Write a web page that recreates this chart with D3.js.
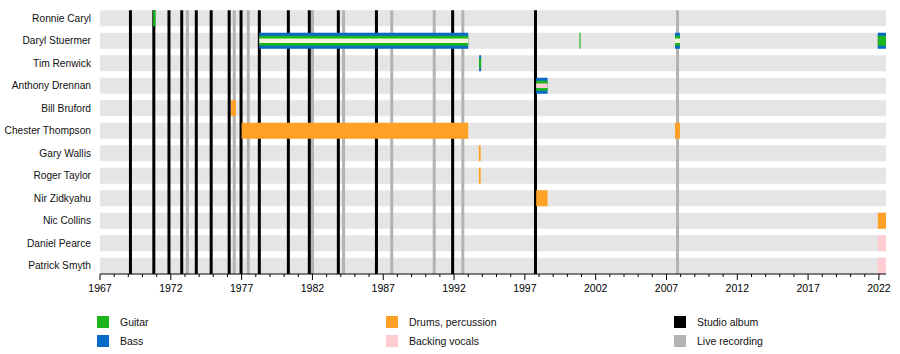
<!DOCTYPE html>
<html>
<head>
<meta charset="utf-8">
<script src="https://cdn.jsdelivr.net/npm/d3@7"></script>
<style>
  body { margin: 0; background: #fff; }
  svg { font-family: "Liberation Sans", Arial, sans-serif; }
</style>
</head>
<body>
<svg id="chart" width="900" height="354"></svg>
<script>
// ---------------- DATA ----------------
const members = ["Ronnie Caryl", "Daryl Stuermer", "Tim Renwick", "Anthony Drennan",
  "Bill Bruford", "Chester Thompson", "Gary Wallis", "Roger Taylor", "Nir Zidkyahu",
  "Nic Collins", "Daniel Pearce", "Patrick Smyth"];

const roles = ["Guitar", "Bass", "Drums, percussion", "Backing vocals", "Other"];

// [member, start, end, roles from outer to inner layer]
const segments = [
  ["Ronnie Caryl", 1970.75, 1970.92, ["Guitar"]],
  ["Daryl Stuermer", 1978.25, 1993.0, ["Bass", "Guitar", "Other"]],
  ["Daryl Stuermer", 2000.85, 2000.93, ["Guitar"]],
  ["Daryl Stuermer", 2007.6, 2007.95, ["Bass", "Guitar", "Other"]],
  ["Daryl Stuermer", 2021.92, 2022.5, ["Bass", "Guitar"]],
  ["Tim Renwick", 1993.77, 1993.91, ["Bass", "Guitar"]],
  ["Anthony Drennan", 1997.8, 1998.6, ["Bass", "Guitar", "Backing vocals"]],
  ["Bill Bruford", 1976.25, 1976.6, ["Drums, percussion"]],
  ["Chester Thompson", 1977.0, 1993.0, ["Drums, percussion"]],
  ["Chester Thompson", 2007.6, 2007.95, ["Drums, percussion"]],
  ["Gary Wallis", 1993.75, 1993.88, ["Drums, percussion"]],
  ["Roger Taylor", 1993.75, 1993.88, ["Drums, percussion"]],
  ["Nir Zidkyahu", 1997.8, 1998.6, ["Drums, percussion"]],
  ["Nic Collins", 2021.92, 2022.5, ["Drums, percussion"]],
  ["Daniel Pearce", 2021.92, 2022.5, ["Backing vocals"]],
  ["Patrick Smyth", 2021.92, 2022.5, ["Backing vocals"]]
];

const studioAlbums = [1969.15, 1970.8, 1971.87, 1972.77, 1973.8, 1974.85, 1976.12, 1976.96,
  1978.25, 1980.3, 1981.78, 1983.83, 1986.52, 1991.9, 1997.75];
const liveRecordings = [1973.17, 1976.48, 1977.47, 1982.0, 1984.2, 1987.6, 1990.6, 1992.62, 2007.78];

const tickYears = [1967, 1972, 1977, 1982, 1987, 1992, 1997, 2002, 2007, 2012, 2017, 2022];
const timeSpan = [1967, 2022.5];

const legendItems = [
  ["Guitar", "Guitar"], ["Bass", "Bass"],
  ["Drums, percussion", "Drums, percussion"], ["Backing vocals", "Backing vocals"],
  ["Studio album", "Studio album"], ["Live recording", "Live recording"]
];

// ---------------- STYLE ----------------
const colors = {
  "Guitar": "#1cb51c",
  "Bass": "#0a6ac8",
  "Drums, percussion": "#ffa126",
  "Backing vocals": "#ffccd3",
  "Other": "#f8f4d8",
  "Studio album": "#000000",
  "Live recording": "#b3b3b3"
};
const layerHeights = [16, 10, 4.5];

const svg = d3.select("#chart");
const x = d3.scaleLinear().domain(timeSpan).range([100, 886]);
const y = d3.scaleBand().domain(members).range([7, 277]).paddingInner(0.29).paddingOuter(0.145);
const axisY = 274;

// background rows
svg.append("g").selectAll("rect").data(members).join("rect")
  .attr("x", x(timeSpan[0])).attr("width", x(timeSpan[1]) - x(timeSpan[0]))
  .attr("y", d => y(d)).attr("height", y.bandwidth())
  .attr("fill", "#e5e5e5");

// vertical lines
const lineTop = y(members[0]);
svg.append("g").selectAll("line").data(liveRecordings).join("line")
  .attr("x1", d => x(d)).attr("x2", d => x(d))
  .attr("y1", lineTop).attr("y2", axisY)
  .attr("stroke", colors["Live recording"]).attr("stroke-width", 3);
svg.append("g").selectAll("line").data(studioAlbums).join("line")
  .attr("x1", d => x(d)).attr("x2", d => x(d))
  .attr("y1", lineTop).attr("y2", axisY)
  .attr("stroke", colors["Studio album"]).attr("stroke-width", 3);

// member bars
const layers = [];
segments.forEach(([m, s, e, rs]) => {
  rs.forEach((r, i) => layers.push({ m, s, e, r, i }));
});
svg.append("g").selectAll("rect").data(layers).join("rect")
  .attr("x", d => x(d.s))
  .attr("width", d => Math.max(1, x(d.e) - x(d.s)))
  .attr("y", d => y(d.m) + (y.bandwidth() - layerHeights[d.i]) / 2)
  .attr("height", d => layerHeights[d.i])
  .attr("fill", d => colors[d.r]);

// member labels
svg.append("g").selectAll("text").data(members).join("text")
  .attr("x", 91).attr("y", d => y(d) + y.bandwidth() / 2)
  .attr("dy", "0.35em").attr("text-anchor", "end")
  .attr("font-size", 10.2).attr("fill", "#111")
  .text(d => d);

// axis
const axis = svg.append("g").attr("transform", `translate(0,${axisY})`);
axis.append("line").attr("x1", x(timeSpan[0])).attr("x2", x(timeSpan[1]))
  .attr("stroke", "#000").attr("stroke-width", 1);
const minorYears = d3.range(timeSpan[0], Math.floor(timeSpan[1]) + 1);
axis.selectAll(".minor").data(minorYears).join("line").attr("class", "minor")
  .attr("x1", d => x(d)).attr("x2", d => x(d))
  .attr("y1", 0).attr("y2", d => tickYears.includes(d) ? 6 : 3)
  .attr("stroke", "#000").attr("stroke-width", 1);
axis.selectAll("text").data(tickYears).join("text")
  .attr("x", d => x(d)).attr("y", 18)
  .attr("text-anchor", "middle").attr("font-size", 10.5).attr("fill", "#000")
  .text(d => d);

// legend
const legendCols = [97, 386, 674];
const legendRows = [322, 341];
const lg = svg.append("g").selectAll("g").data(legendItems).join("g")
  .attr("transform", (d, i) => `translate(${legendCols[Math.floor(i / 2)]},${legendRows[i % 2]})`);
lg.append("rect").attr("x", 0).attr("y", -6).attr("width", 12).attr("height", 12)
  .attr("fill", d => colors[d[0]]);
lg.append("text").attr("x", 23).attr("y", 0).attr("dy", "0.35em")
  .attr("font-size", 10.5).attr("fill", "#111").text(d => d[1]);
</script>
</body>
</html>
